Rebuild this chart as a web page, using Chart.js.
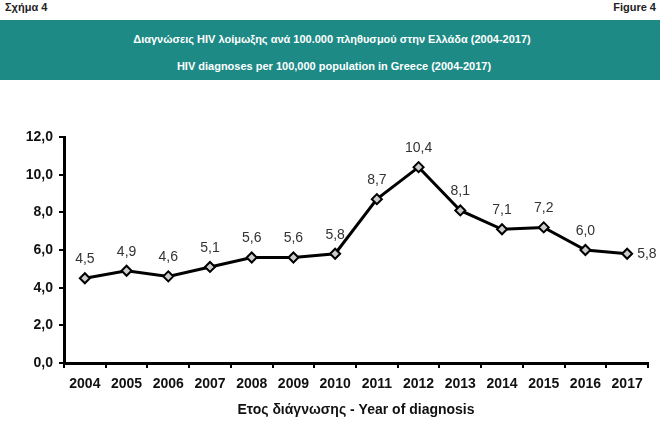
<!DOCTYPE html>
<html>
<head>
<meta charset="utf-8">
<script src="https://cdn.jsdelivr.net/npm/chart.js@4"></script>
<style>
  html, body { margin: 0; padding: 0; background: #fff; }
  #wrap { position: relative; width: 660px; height: 421px; font-family: "Liberation Sans", Arial, sans-serif; }
  .corner { position: absolute; top: 1px; font-size: 11px; font-weight: bold; color: #222; }
  #banner {
    position: absolute; left: 0; top: 20px; width: 660px; height: 60px;
    background: #1d8a86; color: #fff; font-size: 11px; font-weight: bold; text-align: center;
  }
  #banner div { position: absolute; left: 0; width: 660px; }
  #chart { position: absolute; left: 0; top: 0; }
</style>
</head>
<body>
<div id="wrap">
  <div class="corner" style="left:5px">Σχήμα 4</div>
  <div class="corner" style="right:4px">Figure 4</div>
  <div id="banner">
    <div style="top:13px; left:2px">Διαγνώσεις HIV λοίμωξης ανά 100.000 πληθυσμού στην Ελλάδα (2004-2017)</div>
    <div style="top:40px; left:4px">HIV diagnoses per 100,000 population in Greece (2004-2017)</div>
  </div>
  <canvas id="chart" width="660" height="421"></canvas>
</div>

<script>
const years = ["2004", "2005", "2006", "2007", "2008", "2009", "2010",
               "2011", "2012", "2013", "2014", "2015", "2016", "2017"];
const rates = [4.5, 4.9, 4.6, 5.1, 5.6, 5.6, 5.8, 8.7, 10.4, 8.1, 7.1, 7.2, 6.0, 5.8];
const yTicks = [0, 2, 4, 6, 8, 10, 12];

const fmt = v => v.toFixed(1).replace(".", ",");

/* =========================
   value labels above points
========================= */
const valueLabels = {
    id: "valueLabels",
    afterDatasetsDraw(chart) {
        const ctx = chart.ctx;
        const meta = chart.getDatasetMeta(0);
        ctx.save();
        ctx.font = "14px 'Liberation Sans', Arial, sans-serif";
        ctx.fillStyle = "#333";
        ctx.textBaseline = "middle";
        meta.data.forEach((pt, i) => {
            const text = fmt(rates[i]);
            if (i === rates.length - 1) {
                // last one sits to the right of the point
                ctx.textAlign = "left";
                ctx.fillText(text, pt.x + 10, pt.y);
            } else {
                ctx.textAlign = "center";
                ctx.fillText(text, pt.x, pt.y - 19);
            }
        });
        ctx.restore();
    }
};

const tickFont = { family: "'Liberation Sans', Arial, sans-serif", size: 14, weight: "bold" };

new Chart(document.getElementById("chart"), {
    type: "line",
    data: {
        labels: years,
        datasets: [{
            data: rates,
            borderColor: "#000",
            borderWidth: 3,
            tension: 0,
            pointStyle: "rectRot",
            pointRadius: 5,
            pointBorderWidth: 2,
            pointBorderColor: "#000",
            pointBackgroundColor: "#ccc"
        }]
    },
    options: {
        responsive: false,
        animation: false,
        layout: { padding: { left: 0, top: 137, right: 12, bottom: 0 } },
        plugins: {
            legend: { display: false },
            tooltip: { enabled: false }
        },
        scales: {
            x: {
                offset: true,
                grid: { offset: true, drawOnChartArea: false, tickLength: 5, color: "#000", lineWidth: 2 },
                border: { color: "#000", width: 3 },
                ticks: { color: "#111", font: tickFont, padding: 8, maxRotation: 0 },
                title: {
                    display: true,
                    text: "Ετος διάγνωσης - Year of diagnosis",
                    color: "#111",
                    font: tickFont,
                    padding: { top: 2, bottom: 2 }
                },
                afterFit(scale) { scale.height = 58; }
            },
            y: {
                min: 0,
                max: 12,
                afterBuildTicks(scale) { scale.ticks = yTicks.map(v => ({ value: v })); },
                grid: { drawOnChartArea: false, tickLength: 5, color: "#000", lineWidth: 2 },
                border: { color: "#000", width: 3 },
                ticks: { color: "#111", font: tickFont, padding: 6, callback: v => fmt(v) },
                afterFit(scale) { scale.width = 64; }
            }
        }
    },
    plugins: [valueLabels]
});
</script>
</body>
</html>
